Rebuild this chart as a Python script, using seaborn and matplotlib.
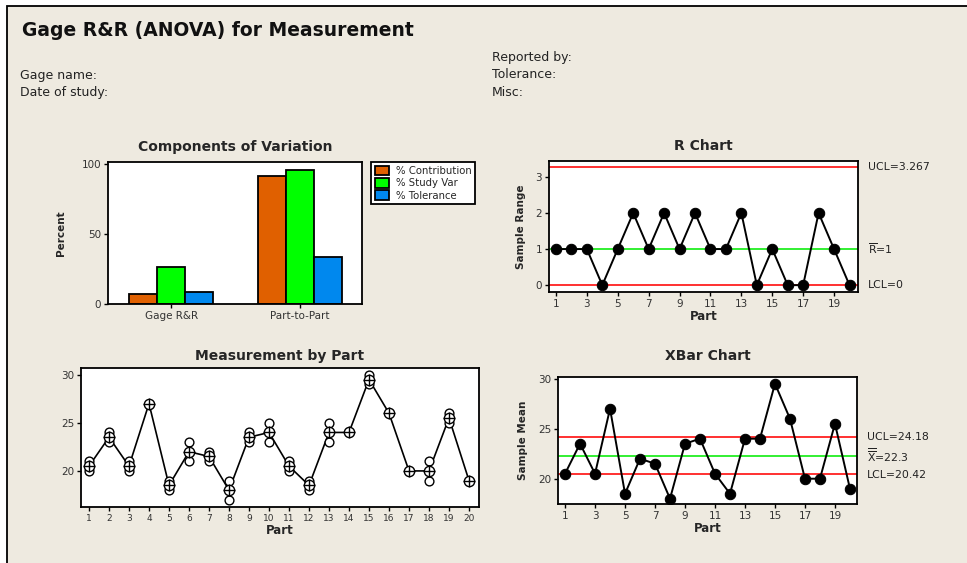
import numpy as np
import pandas as pd
import matplotlib
matplotlib.use("Agg")
import matplotlib.pyplot as plt
import matplotlib.transforms as mtransforms
from matplotlib.patches import Rectangle
import seaborn as sns

# ---------------- data ----------------
sources = ["Gage R&R", "Part-to-Part"]
measures = ["% Contribution", "% Study Var", "% Tolerance"]
pct_contribution = [7.1, 91.7]
pct_study_var = [26.8, 95.7]
pct_tolerance = [8.8, 33.3]

parts = list(range(1, 21))
trial_1 = [20, 23, 20, 27, 18, 21, 21, 17, 23, 23, 20, 18, 23, 24, 29, 26, 20, 19, 25, 19]
trial_2 = [21, 24, 21, 27, 19, 23, 22, 19, 24, 25, 21, 19, 25, 24, 30, 26, 20, 21, 26, 19]

r_ucl, r_bar, r_lcl = 3.267, 1.0, 0.0
x_ucl, x_dbar, x_lcl = 24.18, 22.3, 20.42

title_text = "Gage R&R (ANOVA) for Measurement"
header_left = ["Gage name:", "Date of study:"]
header_right = ["Reported by:", "Tolerance:", "Misc:"]

# ---------------- style ----------------
BG = "#EEEAE0"
bar_colors = ["#E06000", "#00FF00", "#0088EE"]
sns.set_theme(style="ticks")
plt.rcParams["font.family"] = ["DejaVu Sans"]
plt.rcParams["mathtext.fontset"] = "dejavusans"
plt.rcParams["mathtext.default"] = "regular"

W, H = 967, 563
fig = plt.figure(figsize=(W / 100, H / 100), dpi=100, facecolor="white")
fig.patches.append(Rectangle((6.5 / W, -0.05), 1.1, 1 - 5.5 / H + 0.05,
                             transform=fig.transFigure, facecolor=BG,
                             edgecolor="black", linewidth=1.3, zorder=-10))


def px_axes(left, top, right, bottom):
    return fig.add_axes([left / W, 1 - bottom / H, (right - left) / W, (bottom - top) / H])


def style_ax(ax, tick_fs=7.5):
    ax.set_facecolor("white")
    for s in ax.spines.values():
        s.set_visible(True)
        s.set_color("black")
        s.set_linewidth(1.3)
    ax.tick_params(axis="both", which="both", direction="out", length=3, width=1,
                   color="black", labelsize=tick_fs, labelcolor="#333333", pad=2,
                   top=False, right=False)


# ---------------- header ----------------
fig.text(22 / W, 1 - 30 / H, title_text, fontsize=13.5, fontweight="bold",
         va="center", ha="left", color="#111111")
for i, t in enumerate(header_left):
    fig.text(20 / W, 1 - (75 + 17 * i) / H, t, fontsize=9, va="center", ha="left", color="#222222")
for i, t in enumerate(header_right):
    fig.text(492 / W, 1 - (58 + 17 * i) / H, t, fontsize=9, va="center", ha="left", color="#222222")

# ---------------- Components of Variation ----------------
ax1 = px_axes(108, 162, 362, 304)
df_bar = pd.DataFrame({
    "Source": sources * 3,
    "Measure": [measures[0]] * 2 + [measures[1]] * 2 + [measures[2]] * 2,
    "Percent": pct_contribution + pct_study_var + pct_tolerance,
})
sns.barplot(data=df_bar, x="Source", y="Percent", hue="Measure", hue_order=measures,
            palette=bar_colors, saturation=1, edgecolor="black", linewidth=1.3,
            width=0.65, ax=ax1)
style_ax(ax1)
ax1.set_xlim(-0.49, 1.48)
ax1.set_ylim(0, 101.5)
ax1.set_yticks([0, 50, 100])
ax1.set_xlabel("")
ax1.set_ylabel("Percent", fontsize=7.5, fontweight="bold", labelpad=11)
ax1.set_title("Components of Variation", fontsize=10, fontweight="bold", pad=8)
leg = ax1.legend(loc="upper left", bbox_to_anchor=(371 / W, 1 - 162 / H),
                 bbox_transform=fig.transFigure, frameon=True, fancybox=False,
                 framealpha=1, edgecolor="black", fontsize=7.3, borderaxespad=0,
                 handlelength=1.4, handleheight=1.1, labelspacing=0.2,
                 handletextpad=0.7, borderpad=0.35, title=None)
leg.get_frame().set_linewidth(1.3)

# ---------------- R Chart ----------------
ranges = [abs(b - a) for a, b in zip(trial_1, trial_2)]
means = [(a + b) / 2 for a, b in zip(trial_1, trial_2)]

ax2 = px_axes(549, 161, 858, 292)
ax2.axhline(r_ucl, color="#FF2020", lw=1.3, zorder=1)
ax2.axhline(r_bar, color="#22EE22", lw=1.3, zorder=1)
ax2.axhline(r_lcl, color="#FF2020", lw=1.3, zorder=1)
sns.lineplot(x=parts, y=ranges, color="black", lw=1.4, marker="o", markersize=7.5,
             markerfacecolor="black", markeredgecolor="black", estimator=None,
             sort=False, ax=ax2, zorder=3)
style_ax(ax2)
ax2.set_xlim(0.55, 20.55)
ax2.set_ylim(-0.19, 3.44)
ax2.set_xticks(list(range(1, 20, 2)))
ax2.set_yticks([0, 1, 2, 3])
ax2.set_xlabel("Part", fontsize=8.5, fontweight="bold", labelpad=1)
ax2.set_ylabel("Sample Range", fontsize=7.5, fontweight="bold", labelpad=7)
ax2.set_title("R Chart", fontsize=10, fontweight="bold", pad=8)
tr2 = mtransforms.blended_transform_factory(ax2.transAxes, ax2.transData)
for val, lab in [(r_ucl, "UCL=3.267"), (r_bar, r"$\overline{R}$=1"), (r_lcl, "LCL=0")]:
    ax2.annotate(lab, xy=(1, val), xycoords=tr2, xytext=(7, 0), textcoords="offset points",
                 va="center", ha="left", fontsize=7.8, color="#222222", annotation_clip=False)

# ---------------- Measurement by Part ----------------
ax3 = px_axes(81, 368, 479, 507)
df_meas = pd.DataFrame({"Part": parts + parts, "Value": trial_1 + trial_2})
sns.lineplot(x=parts, y=means, color="black", lw=1.2, estimator=None, sort=False,
             ax=ax3, zorder=2)
sns.scatterplot(data=df_meas, x="Part", y="Value", marker="o", s=40, facecolor="white",
                edgecolor="black", linewidth=1.0, ax=ax3, zorder=3)
sns.scatterplot(x=parts, y=means, marker="o", s=55, facecolor="white",
                edgecolor="black", linewidth=1.0, ax=ax3, zorder=4)
sns.scatterplot(x=parts, y=means, marker="+", s=70, color="black",
                linewidth=1.0, ax=ax3, zorder=5)
style_ax(ax3)
ax3.set_xlim(0.6, 20.5)
ax3.set_ylim(16.25, 30.7)
ax3.set_xticks(parts)
ax3.set_yticks([20, 25, 30])
ax3.tick_params(axis="x", labelsize=6.5)
ax3.set_xlabel("Part", fontsize=8.5, fontweight="bold", labelpad=1)
ax3.set_ylabel("")
ax3.set_title("Measurement by Part", fontsize=10, fontweight="bold", pad=6)

# ---------------- XBar Chart ----------------
ax4 = px_axes(558, 377, 857, 504)
ax4.axhline(x_ucl, color="#FF2020", lw=1.3, zorder=1)
ax4.axhline(x_dbar, color="#22EE22", lw=1.3, zorder=1)
ax4.axhline(x_lcl, color="#FF2020", lw=1.3, zorder=1)
sns.lineplot(x=parts, y=means, color="black", lw=1.4, marker="o", markersize=7.5,
             markerfacecolor="black", markeredgecolor="black", estimator=None,
             sort=False, ax=ax4, zorder=3)
style_ax(ax4)
ax4.set_xlim(0.53, 20.47)
ax4.set_ylim(17.47, 30.17)
ax4.set_xticks(list(range(1, 20, 2)))
ax4.set_yticks([20, 25, 30])
ax4.set_xlabel("Part", fontsize=8.5, fontweight="bold", labelpad=1)
ax4.set_ylabel("Sample Mean", fontsize=7.5, fontweight="bold", labelpad=7)
ax4.set_title("XBar Chart", fontsize=10, fontweight="bold", pad=12)
tr4 = mtransforms.blended_transform_factory(ax4.transAxes, ax4.transData)
for val, lab in [(x_ucl, "UCL=24.18"), (x_dbar, r"$\overline{\overline{X}}$=22.3"),
                 (x_lcl, "LCL=20.42")]:
    ax4.annotate(lab, xy=(1, val), xycoords=tr4, xytext=(7, 0), textcoords="offset points",
                 va="center", ha="left", fontsize=7.8, color="#222222", annotation_clip=False)

fig.savefig("out.png", dpi=100, facecolor=fig.get_facecolor())
